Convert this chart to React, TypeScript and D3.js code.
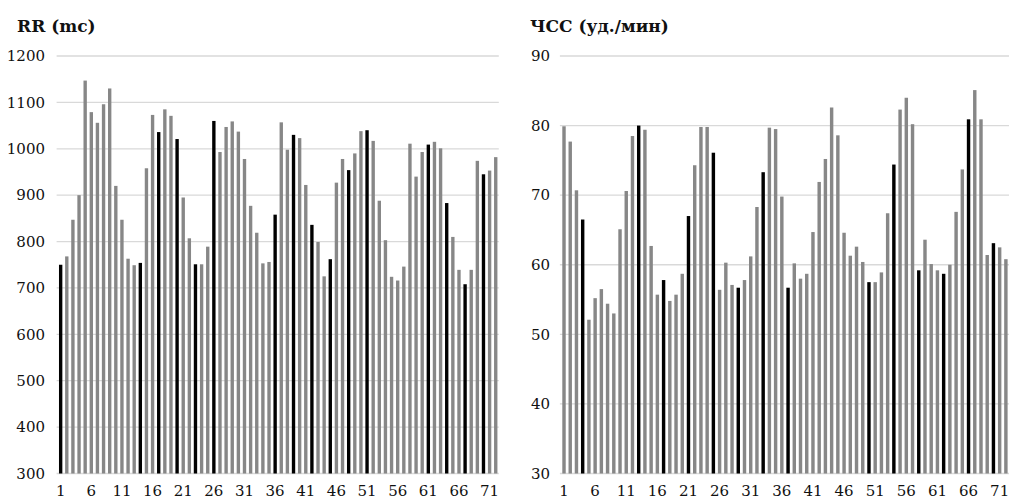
import React from "react";
import * as d3 from "d3";

const rrValues: number[] = [
  750, 768, 847, 900, 1147, 1079, 1056, 1096, 1130, 920,
  847, 763, 749, 754, 958, 1073, 1036, 1085, 1071, 1021,
  895, 807, 751, 751, 789, 1060, 993, 1047, 1059, 1037,
  978, 877, 819, 753, 756, 858, 1057, 998, 1030, 1023,
  922, 836, 799, 725, 762, 927, 978, 954, 990, 1038,
  1040, 1017, 888, 803, 724, 716, 746, 1011, 940, 993,
  1009, 1015, 1001, 883, 810, 739, 708, 739, 974, 945,
  953, 982,
];
const rrHighlight: number[] = [1, 14, 17, 20, 23, 26, 36, 39, 42, 45, 48, 51, 61, 64, 67, 70];

const hrValues: number[] = [
  79.9, 77.7, 70.7, 66.5, 52.1, 55.2, 56.5, 54.4, 53.0, 65.1,
  70.6, 78.5, 80.0, 79.4, 62.7, 55.7, 57.8, 54.8, 55.7, 58.7,
  67.0, 74.3, 79.8, 79.8, 76.1, 56.4, 60.3, 57.1, 56.7, 57.8,
  61.2, 68.3, 73.3, 79.7, 79.5, 69.8, 56.7, 60.2, 58.0, 58.7,
  64.7, 71.9, 75.2, 82.6, 78.6, 64.6, 61.3, 62.6, 60.4, 57.5,
  57.5, 58.9, 67.4, 74.4, 82.3, 84.0, 80.2, 59.2, 63.6, 60.1,
  59.2, 58.7, 60.0, 67.6, 73.7, 80.9, 85.1, 80.9, 61.4, 63.1,
  62.5, 60.8,
];
const hrHighlight: number[] = [4, 13, 17, 21, 25, 29, 33, 37, 50, 54, 58, 62, 66, 70];

const rrTicks: number[] = [300, 400, 500, 600, 700, 800, 900, 1000, 1100, 1200];
const hrTicks: number[] = [30, 40, 50, 60, 70, 80, 90];
const xTickLabels: number[] = [1, 6, 11, 16, 21, 26, 31, 36, 41, 46, 51, 56, 61, 66, 71];

const FONT = "'DejaVu Serif', serif";
const GRAY = "#878787";
const GRID = "#d9d9d9";

type PanelProps = {
  title: string;
  values: number[];
  highlight: number[];
  ticks: number[];
  domain: [number, number];
  x0: number;
  x1: number;
  labelX: number;
  titleX: number;
};

function Panel({ title, values, highlight, ticks, domain, x0, x1, labelX, titleX }: PanelProps) {
  const top = 56;
  const bottom = 473.5;
  const cats = values.map((_, i) => i + 1);
  const x = d3.scaleBand<number>().domain(cats).range([x0, x1]).paddingInner(0.45).paddingOuter(0.225);
  const y = d3.scaleLinear().domain(domain).range([bottom, top]);
  const hl = new Set(highlight);
  const txt = { fontFamily: FONT };
  return (
    <g>
      <text x={titleX} y={32} style={txt} fontWeight="bold" fontSize={17} fill="#111">
        {title}
      </text>
      {ticks.map((t) => (
        <g key={t}>
          <line x1={x0 - 1} x2={x1} y1={y(t)} y2={y(t)} stroke={GRID} strokeWidth={1.3} />
          <text x={labelX} y={y(t)} dy="0.35em" textAnchor="end" style={txt} fontSize={15} fill="#111">
            {t}
          </text>
        </g>
      ))}
      {values.map((v, i) => (
        <rect
          key={i}
          x={x(i + 1)!}
          width={x.bandwidth()}
          y={y(v)}
          height={y(domain[0]) - y(v)}
          fill={hl.has(i + 1) ? "#000" : GRAY}
        />
      ))}
      {xTickLabels.map((t) => (
        <text
          key={t}
          x={x(t)! + x.bandwidth() / 2}
          y={496}
          textAnchor="middle"
          style={txt}
          fontSize={15}
          fill="#111"
        >
          {t}
        </text>
      ))}
    </g>
  );
}

export default function App() {
  return (
    <svg width={1012} height={501} style={{ position: "absolute", left: 0, top: 0, background: "#fff" }}>
      <rect width={1012} height={501} fill="#fff" />
      <Panel
        title="RR (mc)"
        values={rrValues}
        highlight={rrHighlight}
        ticks={rrTicks}
        domain={[300, 1200]}
        x0={57.6}
        x1={498.8}
        labelX={45}
        titleX={17}
      />
      <Panel
        title="ЧСС (уд./мин)"
        values={hrValues}
        highlight={hrHighlight}
        ticks={hrTicks}
        domain={[30, 90]}
        x0={560.9}
        x1={1009}
        labelX={550}
        titleX={530}
      />
    </svg>
  );
}
